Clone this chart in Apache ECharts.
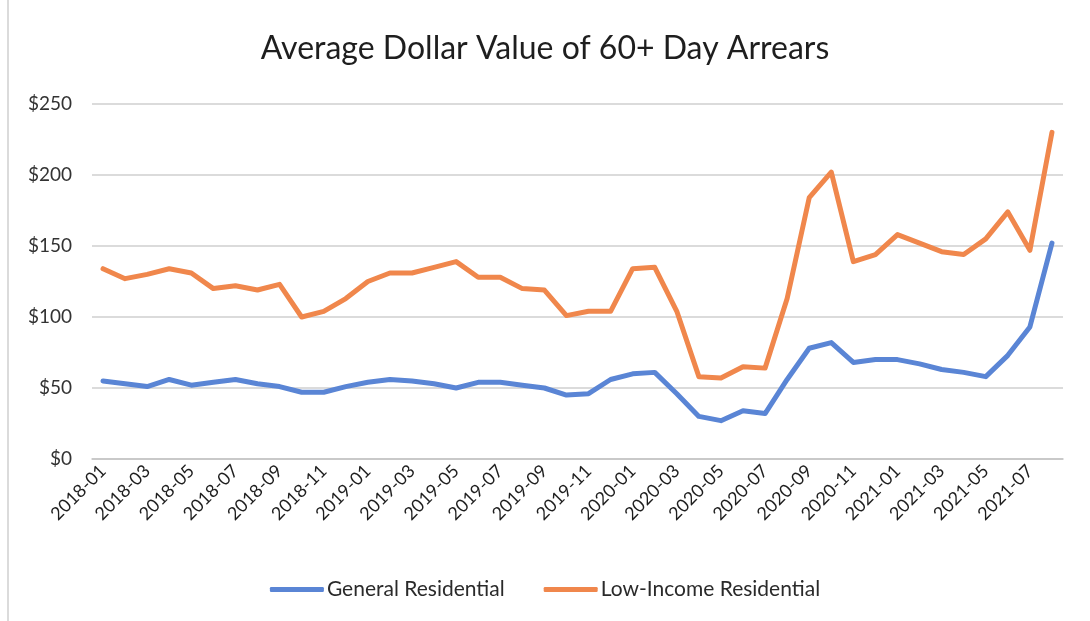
<!DOCTYPE html>
<html>
<head>
<meta charset="utf-8">
<script src="https://cdn.jsdelivr.net/npm/echarts@6/dist/echarts.min.js"></script>
<style>
  html, body { margin: 0; padding: 0; background: #fff; }
  #chart { width: 1090px; height: 621px; }
</style>
</head>
<body>
<div id="chart"></div>
<script>
// Months covered, January 2018 through August 2021
const months = [
  '2018-01','2018-02','2018-03','2018-04','2018-05','2018-06','2018-07','2018-08','2018-09','2018-10','2018-11','2018-12',
  '2019-01','2019-02','2019-03','2019-04','2019-05','2019-06','2019-07','2019-08','2019-09','2019-10','2019-11','2019-12',
  '2020-01','2020-02','2020-03','2020-04','2020-05','2020-06','2020-07','2020-08','2020-09','2020-10','2020-11','2020-12',
  '2021-01','2021-02','2021-03','2021-04','2021-05','2021-06','2021-07','2021-08'
];

// Average dollar value of 60+ day arrears, general residential customers
const generalResidential = [
  55, 53, 51, 56, 52, 54, 56, 53, 51, 47, 47, 51,
  54, 56, 55, 53, 50, 54, 54, 52, 50, 45, 46, 56,
  60, 61, 46, 30, 27, 34, 32, 56, 78, 82, 68, 70,
  70, 67, 63, 61, 58, 73, 93, 152
];

// Average dollar value of 60+ day arrears, low-income residential customers
const lowIncomeResidential = [
  134, 127, 130, 134, 131, 120, 122, 119, 123, 100, 104, 113,
  125, 131, 131, 135, 139, 128, 128, 120, 119, 101, 104, 104,
  134, 135, 104, 58, 57, 65, 64, 113, 184, 202, 139, 144,
  158, 152, 146, 144, 155, 174, 147, 230
];

// Value axis ticks
const yMin = 0, yMax = 250, yStep = 50;

const blue = '#5a85d5';
const orange = '#f0874c';
const font = 'Lato, "Open Sans", "Liberation Sans", sans-serif';

const chart = echarts.init(document.getElementById('chart'), null, { renderer: 'canvas' });

chart.setOption({
  backgroundColor: '#ffffff',
  animation: false,
  title: {
    text: 'Average Dollar Value of 60+ Day Arrears',
    left: 'center',
    top: 28,
    textStyle: { fontFamily: font, fontSize: 32, fontWeight: 'normal', color: '#1e1e1e' }
  },
  grid: { left: 92, right: 27, top: 104, bottom: 162 },
  legend: {
    top: 574,
    left: 'center',
    itemGap: 39,
    itemWidth: 54,
    itemHeight: 5,
    icon: 'roundRect',
    textStyle: { fontFamily: font, fontSize: 21, color: '#2a2a2a', padding: [0, 0, 0, -2] },
    data: ['General Residential', 'Low-Income Residential']
  },
  xAxis: {
    type: 'category',
    data: months,
    boundaryGap: true,
    axisLine: { show: true, lineStyle: { color: '#c4c4c4', width: 1.5 } },
    axisTick: { show: false },
    axisLabel: {
      interval: 1,
      rotate: 45,
      margin: 9,
      fontFamily: font,
      fontSize: 18,
      color: '#1e1e1e'
    }
  },
  yAxis: {
    type: 'value',
    min: yMin,
    max: yMax,
    interval: yStep,
    axisLine: { show: false },
    axisTick: { show: false },
    splitLine: { lineStyle: { color: '#cfcfcf', width: 1.5 } },
    axisLabel: {
      margin: 20,
      fontFamily: font,
      fontSize: 19,
      color: '#333333',
      formatter: v => '$' + v
    }
  },
  series: [
    {
      name: 'General Residential',
      type: 'line',
      data: generalResidential,
      symbol: 'none',
      lineStyle: { color: blue, width: 5, join: 'round', cap: 'round' },
      itemStyle: { color: blue }
    },
    {
      name: 'Low-Income Residential',
      type: 'line',
      data: lowIncomeResidential,
      symbol: 'none',
      lineStyle: { color: orange, width: 5, join: 'round', cap: 'round' },
      itemStyle: { color: orange }
    }
  ],
  graphic: [
    // thin frame edge on the left of the chart area
    { type: 'line', shape: { x1: 8, y1: 0, x2: 8, y2: 621 }, style: { stroke: '#cfcfcf', lineWidth: 1.5 } }
  ]
});
</script>
</body>
</html>
